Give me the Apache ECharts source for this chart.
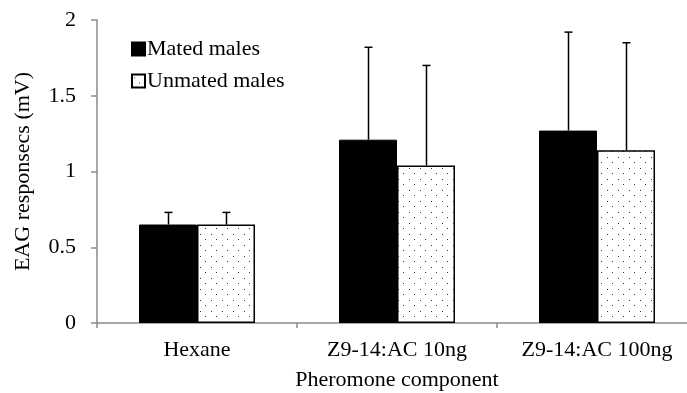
<!DOCTYPE html>
<html>
<head>
<meta charset="utf-8">
<script src="https://cdn.jsdelivr.net/npm/echarts@6/dist/echarts.min.js"></script>
<style>
  html, body { margin: 0; padding: 0; background: #fff; }
  #chart { width: 687px; height: 393px; }
</style>
</head>
<body>
<div id="chart"></div>
<script>
const categories = ["Hexane", "Z9-14:AC 10ng", "Z9-14:AC 100ng"];
const matedMeans = [0.65, 1.21, 1.27];
const matedErr = [0.08, 0.61, 0.65];
const unmatedMeans = [0.65, 1.04, 1.14];
const unmatedErr = [0.08, 0.66, 0.71];
const yTicks = [0, 0.5, 1, 1.5, 2];

const font = "Liberation Serif";
const axisGray = "#8a8a8a";
const barWidth = 58;

// small dotted fill like the original print pattern
function dotPattern() {
  const c = document.createElement("canvas");
  c.width = 11;
  c.height = 11;
  const ctx = c.getContext("2d");
  ctx.fillStyle = "#fff";
  ctx.fillRect(0, 0, 11, 11);
  ctx.fillStyle = "#333";
  ctx.fillRect(2, 3, 1, 1);
  ctx.fillRect(7, 8, 1, 1);
  return c;
}

function errorSeries(name, means, errs, side) {
  return {
    type: "custom",
    name: name + " err",
    z: 5,
    data: means.map((m, i) => [i, m, m + errs[i]]),
    renderItem: (params, api) => {
      const top = api.coord([api.value(0), api.value(2)]);
      const base = api.coord([api.value(0), api.value(1)]);
      const x = Math.round(top[0] + side * barWidth / 2) + 0.5;
      const style = { stroke: "#000", lineWidth: 1.5 };
      return {
        type: "group",
        children: [
          { type: "line", shape: { x1: x, y1: base[1], x2: x, y2: top[1] }, style },
          { type: "line", shape: { x1: x - 4, y1: top[1], x2: x + 4, y2: top[1] }, style },
        ],
      };
    },
  };
}

const chart = echarts.init(document.querySelector("#chart"), null, { renderer: "canvas" });

chart.setOption({
  animation: false,
  backgroundColor: "#fff",
  textStyle: { fontFamily: font },
  grid: { left: 97, top: 20, width: 600, height: 303, outerBoundsMode: "none", containLabel: false },
  legend: {
    orient: "vertical",
    left: 126,
    top: 33,
    icon: "rect",
    itemWidth: 13,
    itemHeight: 13,
    itemGap: 10,
    data: ["Mated males", "Unmated males"],
    textStyle: { fontFamily: font, fontSize: 22, color: "#000", padding: [0, 0, 0, -3] },
  },
  xAxis: {
    type: "category",
    data: categories,
    name: "Pheromone component",
    nameLocation: "middle",
    nameGap: 46,
    nameTextStyle: { fontFamily: font, fontSize: 22, color: "#000" },
    axisLine: { lineStyle: { color: axisGray, width: 1.5 } },
    axisTick: { show: true, length: 5, lineStyle: { color: axisGray, width: 1.5 } },
    axisLabel: { fontFamily: font, fontSize: 22, color: "#000", margin: 16 },
  },
  yAxis: {
    type: "value",
    min: yTicks[0],
    max: yTicks[yTicks.length - 1],
    interval: 0.5,
    name: "EAG responsecs (mV)",
    nameLocation: "middle",
    nameGap: 63,
    nameTextStyle: { fontFamily: font, fontSize: 22, color: "#000" },
    axisLine: { show: true, lineStyle: { color: axisGray, width: 1.5 } },
    axisTick: { show: true, length: 6, lineStyle: { color: axisGray, width: 1.5 } },
    splitLine: { show: false },
    axisLabel: { fontFamily: font, fontSize: 22, color: "#000", margin: 21 },
  },
  series: [
    {
      type: "bar",
      name: "Mated males",
      data: matedMeans,
      barWidth: barWidth,
      barGap: "0%",
      itemStyle: { color: "#000", borderColor: "#000", borderWidth: 1 },
    },
    {
      type: "bar",
      name: "Unmated males",
      data: unmatedMeans,
      barWidth: barWidth,
      barGap: "0%",
      itemStyle: { color: { image: dotPattern(), repeat: "repeat" }, borderColor: "#000", borderWidth: 1.5 },
    },
    errorSeries("Mated males", matedMeans, matedErr, -1),
    errorSeries("Unmated males", unmatedMeans, unmatedErr, 1),
  ],
});
</script>
</body>
</html>
